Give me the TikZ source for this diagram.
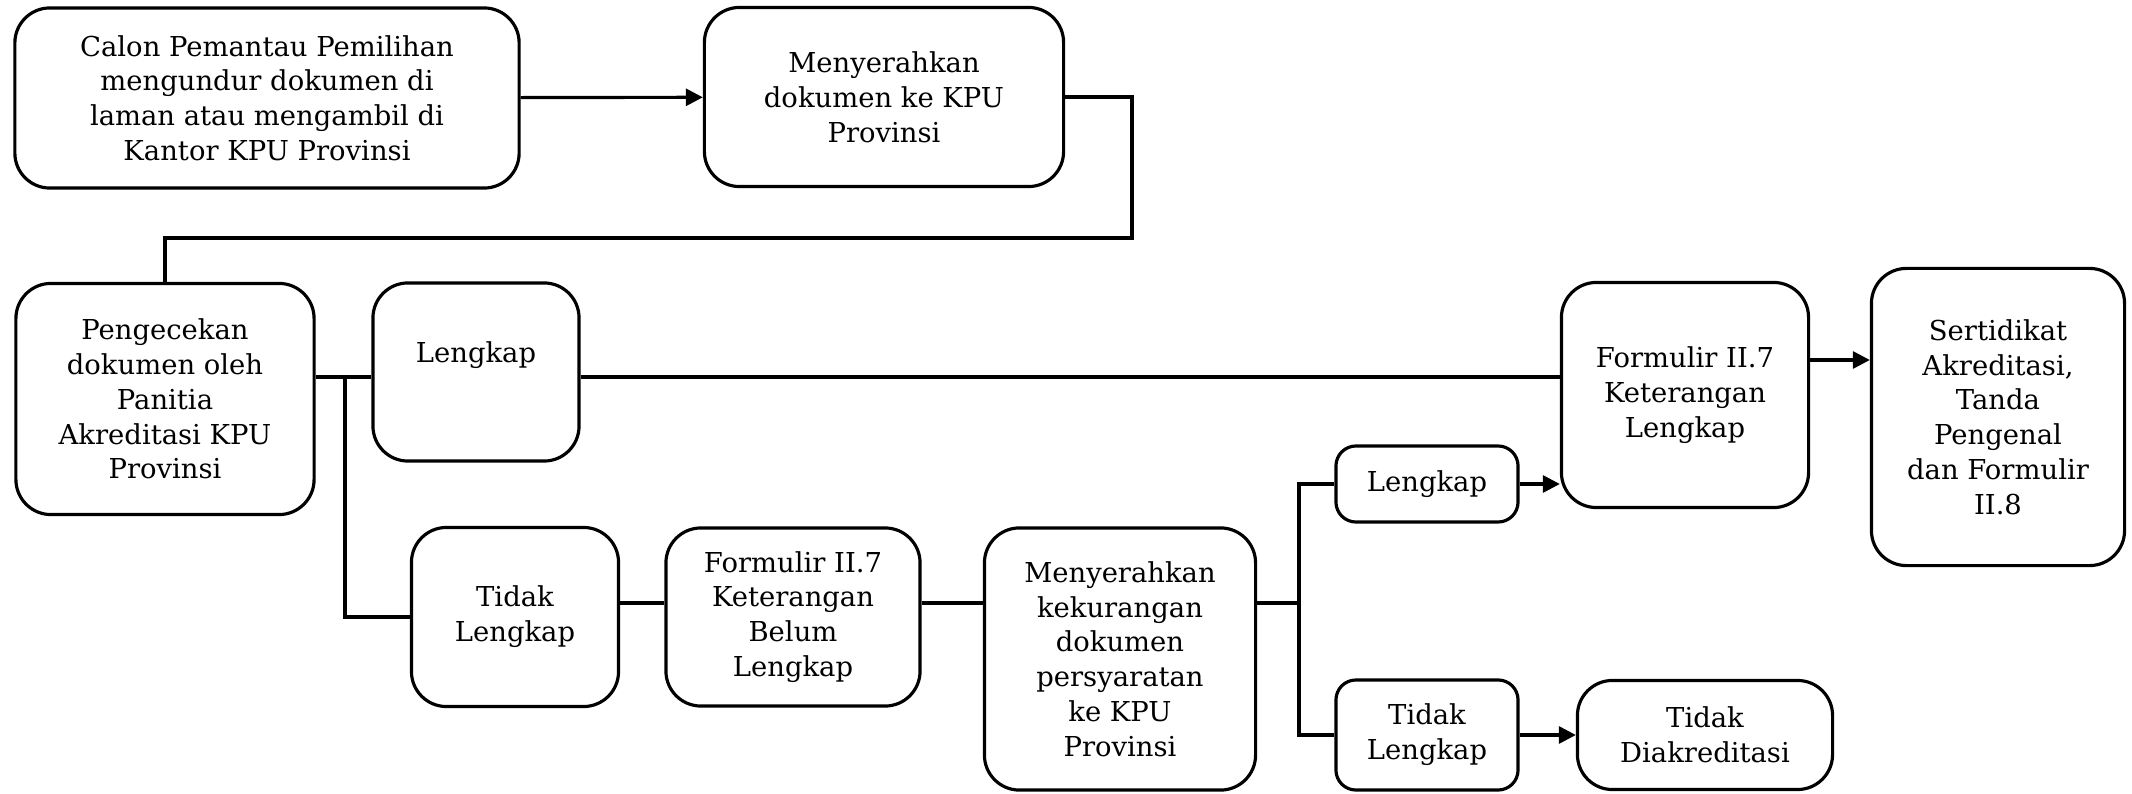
\documentclass[tikz,border=0pt]{standalone}
\usepackage{fontspec}
\setmainfont{DejaVu Serif}
\usetikzlibrary{arrows.meta,positioning}

\tikzset{
  box/.style={draw, line width=0.9pt, rounded corners=3.5mm, align=center, inner sep=0pt,
    font=\fontsize{7.8}{9.9}\selectfont},
  smallbox/.style={box, rounded corners=2mm},
  flow/.style={line width=0.9pt},
  flowarrow/.style={flow, -{Triangle[length=1.7mm,width=1.7mm]}}
}

\begin{document}
\begin{tikzpicture}[x=0.01cm, y=-0.01cm]
    \useasboundingbox (0,0) rectangle (2132,794);

    % Top row
    \node[box, minimum width=5.04cm, minimum height=1.80cm] (calon) at (267,98) {Calon Pemantau Pemilihan\\mengundur dokumen di\\laman atau mengambil di\\Kantor KPU Provinsi};
    \node[box, minimum width=3.59cm, minimum height=1.79cm] (serah) at (884,97) {Menyerahkan\\dokumen ke KPU\\Provinsi};

    % Checking and first split
    \node[box, minimum width=2.98cm, minimum height=2.31cm] (cek) at (165,399) {Pengecekan\\dokumen oleh\\Panitia\\Akreditasi KPU\\Provinsi};
    \node[box, minimum width=2.06cm, minimum height=1.78cm] (lk1) at (476,372) {};
    \node[font=\fontsize{7.8}{9.9}\selectfont] (lk1txt) at (476,355) {Lengkap};
    \node[box, minimum width=2.07cm, minimum height=1.79cm] (tl1) at (515,617) {Tidak\\Lengkap};
    \node[box, minimum width=2.54cm, minimum height=1.78cm] (fbl) at (793,617) {Formulir II.7\\Keterangan\\Belum\\Lengkap};
    \node[box, minimum width=2.71cm, minimum height=2.62cm] (kurang) at (1120,659) {Menyerahkan\\kekurangan\\dokumen\\persyaratan\\ke KPU\\Provinsi};

    % Second split
    \node[smallbox, minimum width=1.82cm, minimum height=0.76cm] (lk2) at (1427,484) {Lengkap};
    \node[smallbox, minimum width=1.82cm, minimum height=1.10cm] (tl2) at (1427,735) {Tidak\\Lengkap};
    \node[box, minimum width=2.55cm, minimum height=1.09cm] (tdk) at (1705,735) {Tidak\\Diakreditasi};

    % Result
    \node[box, minimum width=2.47cm, minimum height=2.25cm] (fl) at (1685,395) {Formulir II.7\\Keterangan\\Lengkap};
    \node[box, minimum width=2.53cm, minimum height=2.97cm] (sert) at (1998,417) {Sertidikat\\Akreditasi,\\Tanda\\Pengenal\\dan Formulir\\II.8};

    % Connectors
    \coordinate (loopR) at (1132,238);
    \coordinate (cabang1) at (345,377);
    \coordinate (midrow) at (0,603);
    \coordinate (cabang2) at (1299,603);
    \coordinate (toprow) at (0,360);

    \draw[flowarrow] (calon) -- (serah);
    \draw[flow] (serah.east) -| (loopR) -| (cek.north);
    \draw[flow] (cek.east |- cabang1) -- (lk1.west |- cabang1);
    \draw[flow] (cabang1) |- (tl1.west);
    \draw[flow] (lk1.east |- cabang1) -- (fl.west |- cabang1);
    \draw[flow] (tl1.east |- midrow) -- (fbl.west |- midrow);
    \draw[flow] (fbl.east |- midrow) -- (kurang.west |- midrow);
    \draw[flow] (kurang.east |- midrow) -- (cabang2);
    \draw[flow] (lk2.west) -| (cabang2) |- (tl2.west);
    \draw[flowarrow] (lk2.east) -- (fl.west |- lk2.east);
    \draw[flowarrow] (tl2.east) -- (tdk.west |- tl2.east);
    \draw[flowarrow] (fl.east |- toprow) -- (sert.west |- toprow);

\end{tikzpicture}
\end{document}
